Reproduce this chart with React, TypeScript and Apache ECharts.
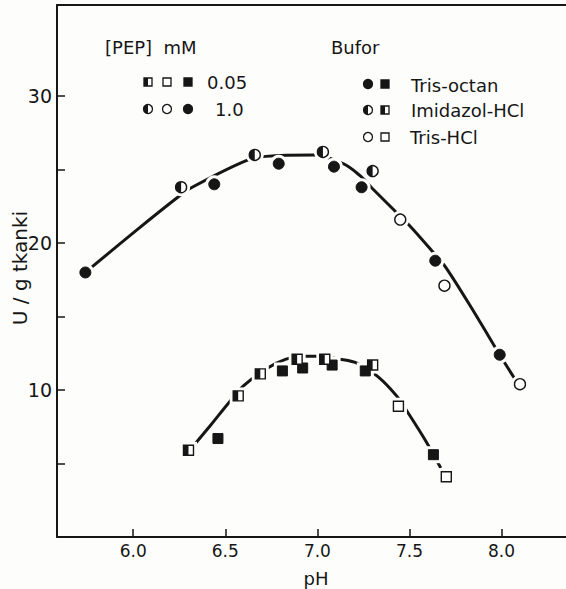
import React, { useEffect, useRef } from "react";
import * as echarts from "echarts";

// Axis ticks
const PH_TICKS = [6.0, 6.5, 7.0, 7.5, 8.0];
const U_TICKS = [5, 10, 15, 20, 25, 30];
const U_LABELS = [10, 20, 30];

// [PEP] = 1.0 mM (circles)
const trisOctan1_pH = [5.74, 6.44, 6.79, 7.09, 7.24, 7.64, 7.99];
const trisOctan1_U = [18.0, 24.0, 25.4, 25.2, 23.8, 18.8, 12.4];
const imidazol1_pH = [6.26, 6.66, 7.03, 7.3];
const imidazol1_U = [23.8, 26.0, 26.2, 24.9];
const trisHCl1_pH = [7.45, 7.69, 8.1];
const trisHCl1_U = [21.6, 17.1, 10.4];

// [PEP] = 0.05 mM (squares)
const trisOctan005_pH = [6.46, 6.81, 6.92, 7.08, 7.26, 7.63];
const trisOctan005_U = [6.7, 11.3, 11.5, 11.7, 11.3, 5.6];
const imidazol005_pH = [6.3, 6.57, 6.69, 6.89, 7.04, 7.3];
const imidazol005_U = [5.9, 9.6, 11.1, 12.1, 12.1, 11.7];
const trisHCl005_pH = [7.44, 7.7];
const trisHCl005_U = [8.9, 4.1];

// Fitted curves
const upperCurve_pH = [5.74, 6.02, 6.24, 6.32, 6.61, 6.72, 6.98, 7.14, 7.23, 7.3, 7.42, 7.5, 7.62, 7.7, 7.88, 7.99, 8.07];
const upperCurve_U = [18.0, 20.9, 23.1, 23.8, 25.6, 25.9, 26.0, 25.4, 24.6, 23.7, 22.2, 21.2, 19.5, 18.3, 14.7, 12.4, 10.8];
const lowerCurve_pH = [6.3, 6.42, 6.51, 6.6, 6.73, 6.83, 6.92, 7.0, 7.12, 7.22, 7.33, 7.43, 7.5, 7.59, 7.67];
const lowerCurve_U = [5.8, 7.6, 9.0, 10.3, 11.5, 12.1, 12.3, 12.3, 12.1, 11.8, 10.9, 9.6, 8.3, 6.5, 4.7];

const X_TITLE = "pH";
const Y_TITLE = "U / g tkanki";

const INK = "#161616";
const BG = "#fdfdfb";
const FONT = "DejaVu Sans";
const CIRCLE = 11;
const SQUARE = 10;
const HALF_DISC = "path://M10,20 A10,10 0 0,1 10,0 Z";

const zip = (xs: number[], ys: number[]) => xs.map((x, i) => [x, ys[i]]);

export default function App() {
  const ref = useRef<HTMLDivElement>(null);
  useEffect(() => {
    document.body.style.margin = "0";
    const chart = echarts.init(ref.current!, null, { renderer: "svg" });

    const allCircles = [
      ...zip(trisOctan1_pH, trisOctan1_U),
      ...zip(imidazol1_pH, imidazol1_U),
      ...zip(trisHCl1_pH, trisHCl1_U),
    ];
    const allSquares = [
      ...zip(trisOctan005_pH, trisOctan005_U),
      ...zip(imidazol005_pH, imidazol005_U),
      ...zip(trisHCl005_pH, trisHCl005_U),
    ];

    const scatter = (name: string, data: number[][], symbol: string, size: any, color: string, border: number, z: number, offset?: number[]) => ({
      name,
      type: "scatter",
      data,
      symbol,
      symbolSize: size,
      symbolOffset: offset || [0, 0],
      z,
      silent: true,
      itemStyle: { color, borderColor: border ? INK : color, borderWidth: border, opacity: 1 },
    });

    const line = (name: string, data: number[][]) => ({
      name,
      type: "line",
      data,
      smooth: 0.35,
      showSymbol: false,
      z: 2,
      silent: true,
      lineStyle: { color: INK, width: 3 },
    });

    const lx1 = 148, lx2 = 167, lx3 = 188;
    const bx1 = 368, bx2 = 385;
    const legendCircle = (cx: number, cy: number, kind: string) => {
      const els: any[] = [
        { type: "circle", shape: { cx, cy, r: 4.5 }, style: { fill: kind === "filled" ? INK : "#fff", stroke: INK, lineWidth: 1.3 } },
      ];
      if (kind === "half") els.push({ type: "sector", shape: { cx, cy, r: 4.5, r0: 0, startAngle: Math.PI / 2, endAngle: (3 * Math.PI) / 2 }, style: { fill: INK } });
      return els;
    };
    const legendSquare = (cx: number, cy: number, kind: string) => {
      const els: any[] = [
        { type: "rect", shape: { x: cx - 4, y: cy - 4, width: 8, height: 8 }, style: { fill: kind === "filled" ? INK : "#fff", stroke: INK, lineWidth: 1.3 } },
      ];
      if (kind === "half") els.push({ type: "rect", shape: { x: cx - 4, y: cy - 4, width: 4, height: 8 }, style: { fill: INK } });
      return els;
    };
    const txt = (x: number, y: number, text: string, size = 18, extra: any = {}) => ({
      type: "text",
      x,
      y,
      ...extra,
      style: { text, fill: INK, font: `${size}px "${FONT}"`, textVerticalAlign: "middle", ...(extra.style || {}) },
    });

    chart.setOption({
      animation: false,
      backgroundColor: BG,
      grid: { left: 57, top: 5, right: 0, bottom: 52, containLabel: false, outerBoundsMode: "none" },
      xAxis: [
        {
          type: "value",
          min: 5.586,
          max: 8.35,
          axisLine: { show: true, onZero: false, lineStyle: { color: INK, width: 2 } },
          axisTick: { show: true, inside: true, length: 8, lineStyle: { color: INK, width: 1.5 }, customValues: PH_TICKS },
          axisLabel: { color: INK, fontSize: 17, fontFamily: FONT, margin: 5, customValues: PH_TICKS, formatter: (v: number) => v.toFixed(1) },
          splitLine: { show: false },
        },
        {
          type: "value",
          position: "top",
          min: 5.586,
          max: 8.35,
          axisLine: { show: true, onZero: false, lineStyle: { color: INK, width: 2 } },
          axisTick: { show: false },
          axisLabel: { show: false },
          splitLine: { show: false },
        },
      ],
      yAxis: {
        type: "value",
        min: 0,
        max: 36.2,
        axisLine: { show: true, onZero: false, lineStyle: { color: INK, width: 2 } },
        axisTick: { show: true, inside: true, length: 8, lineStyle: { color: INK, width: 1.5 }, customValues: U_TICKS },
        axisLabel: { color: INK, fontSize: 19, fontFamily: FONT, margin: 5, customValues: U_LABELS },
        splitLine: { show: false },
      },
      series: [
        line("curve 1.0 mM", zip(upperCurve_pH, upperCurve_U)),
        line("curve 0.05 mM", zip(lowerCurve_pH, lowerCurve_U)),
        // white halos that break the curves around the points
        scatter("halo circles", allCircles, "circle", CIRCLE + 7, BG, 0, 3),
        scatter("halo squares", allSquares, "rect", SQUARE + 7, BG, 0, 3),
        // 1.0 mM
        scatter("Tris-octan 1.0", zip(trisOctan1_pH, trisOctan1_U), "circle", CIRCLE, INK, 1, 4),
        scatter("Imidazol-HCl 1.0", zip(imidazol1_pH, imidazol1_U), "circle", CIRCLE, "#fff", 1.4, 4),
        scatter("Imidazol-HCl 1.0 half", zip(imidazol1_pH, imidazol1_U), HALF_DISC, [CIRCLE / 2, CIRCLE], INK, 0, 5, [-CIRCLE / 4, 0]),
        scatter("Tris-HCl 1.0", zip(trisHCl1_pH, trisHCl1_U), "circle", CIRCLE, "#fff", 1.4, 4),
        // 0.05 mM
        scatter("Tris-octan 0.05", zip(trisOctan005_pH, trisOctan005_U), "rect", SQUARE, INK, 1, 4),
        scatter("Imidazol-HCl 0.05", zip(imidazol005_pH, imidazol005_U), "rect", SQUARE, "#fff", 1.4, 4),
        scatter("Imidazol-HCl 0.05 half", zip(imidazol005_pH, imidazol005_U), "rect", [SQUARE / 2, SQUARE], INK, 0, 5, [-SQUARE / 4, 0]),
        scatter("Tris-HCl 0.05", zip(trisHCl005_pH, trisHCl005_U), "rect", SQUARE, "#fff", 1.4, 4),
      ],
      graphic: [
        txt(20, 268, Y_TITLE, 20, { rotation: Math.PI / 2, style: { textAlign: "center" } }),
        txt(316, 578, X_TITLE, 18, { style: { textAlign: "center" } }),
        txt(105, 47, "[PEP]  mM"),
        txt(331, 47, "Bufor"),
        ...legendSquare(lx1, 82, "half"),
        ...legendSquare(lx2, 82, "open"),
        ...legendSquare(lx3, 82, "filled"),
        txt(207, 82, "0.05"),
        ...legendCircle(lx1, 109, "half"),
        ...legendCircle(lx2, 109, "open"),
        ...legendCircle(lx3, 109, "filled"),
        txt(215, 109, "1.0"),
        ...legendCircle(bx1, 84, "filled"),
        ...legendSquare(bx2, 84, "filled"),
        txt(411, 85, "Tris-octan"),
        ...legendCircle(bx1, 110, "half"),
        ...legendSquare(bx2, 110, "half"),
        txt(411, 110, "Imidazol-HCl"),
        ...legendCircle(bx1, 137, "open"),
        ...legendSquare(bx2, 137, "open"),
        txt(410, 137, "Tris-HCl"),
      ],
    });
    return () => chart.dispose();
  }, []);
  return <div ref={ref} style={{ position: "absolute", left: 0, top: 0, width: 566, height: 589 }} />;
}
